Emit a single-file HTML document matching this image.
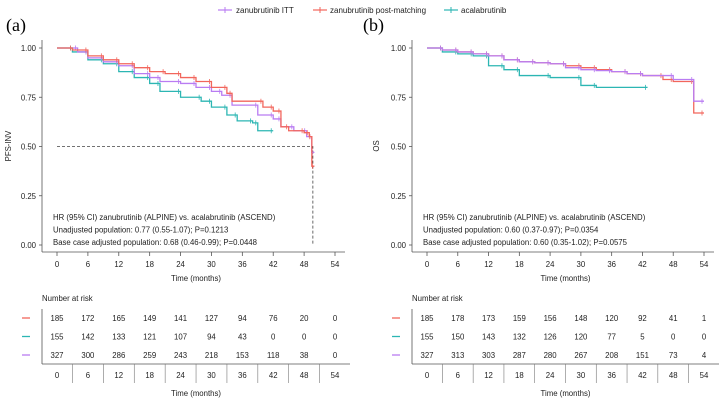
<!DOCTYPE html>
<html><head><meta charset="utf-8"><style>
body{margin:0;background:#fff;}
svg{display:block;font-family:"Liberation Sans",sans-serif;}
</style></head><body>
<svg id="c" width="722" height="400" viewBox="0 0 722 400"></svg>
<script>
const xTicks=[0,6,12,18,24,30,36,42,48,54];
const yTicks=[0,0.25,0.5,0.75,1.0];
const seriesNames=["zanubrutinib ITT","zanubrutinib post-matching","acalabrutinib"];
const colors={itt:"#b97cf2",post:"#f2665c",acal:"#2cb6b3"};
// Panel A (PFS-INV) step data
const pfsPostT=[0,3,6,9,12,15,18,21,24,27,30,33,34,40,42,43.5,45,48,49,49.5,50];
const pfsPostS=[1,0.99,0.96,0.94,0.92,0.90,0.88,0.87,0.85,0.83,0.80,0.77,0.73,0.70,0.68,0.60,0.58,0.57,0.55,0.40,0.40];
const pfsIttT=[0,4,6,9,12,15,18,20,24,27,30,32,34,39,42,43.5,46,48.5,49.5,50];
const pfsIttS=[1,0.98,0.95,0.93,0.91,0.87,0.85,0.83,0.82,0.80,0.78,0.76,0.71,0.66,0.64,0.60,0.58,0.55,0.47,0.47];
const pfsAcalT=[0,3,6,9,12,15,18,20,24,28,30,33,35,38,39,42];
const pfsAcalS=[1,0.98,0.94,0.92,0.88,0.85,0.82,0.78,0.75,0.73,0.70,0.66,0.63,0.62,0.58,0.58];
// Panel B (OS)
const osPostT=[0,3,6,9,12,15,18,21,24,27,30,33,36,39,42,46,48,52,54];
const osPostS=[1,0.99,0.98,0.97,0.96,0.94,0.93,0.925,0.92,0.91,0.90,0.89,0.88,0.87,0.86,0.84,0.83,0.67,0.67];
const osIttT=[0,3,6,9,12,15,18,21,24,27,30,33,36,39,42,48,52,54];
const osIttS=[1,0.99,0.98,0.97,0.96,0.94,0.93,0.925,0.92,0.90,0.89,0.885,0.88,0.87,0.86,0.84,0.73,0.73];
const osAcalT=[0,3,6,9,12,15,18,24,30,33,43];
const osAcalS=[1,0.98,0.97,0.96,0.91,0.89,0.86,0.85,0.81,0.80,0.80];
// risk tables
const riskA_post=[185,172,165,149,141,127,94,76,20,0];
const riskA_acal=[155,142,133,121,107,94,43,0,0,0];
const riskA_itt=[327,300,286,259,243,218,153,118,38,0];
const riskB_post=[185,178,173,159,156,148,120,92,41,1];
const riskB_acal=[155,150,143,132,126,120,77,5,0,0];
const riskB_itt=[327,313,303,287,280,267,208,151,73,4];

const svg=document.getElementById('c');
const NS="http://www.w3.org/2000/svg";
function mk(tag,attrs,parent){const e=document.createElementNS(NS,tag);for(const k in attrs)e.setAttribute(k,attrs[k]);(parent||svg).appendChild(e);return e;}
function txt(x,y,s,size,anchor,parent,fill){const t=mk('text',{x:x,y:y,'font-size':size,'text-anchor':anchor||'start',fill:fill||'#222'},parent);t.textContent=s;return t;}

// legend
const leg=[[218,236,colors.itt,seriesNames[0]],[313,330,colors.post,seriesNames[1]],[444,461,colors.acal,seriesNames[2]]];
leg.forEach(l=>{
 const g=mk('g',{});
 
 
 mk('line',{x1:l[0],x2:l[0]+14,y1:10,y2:10,stroke:l[2],'stroke-width':1.2},g);
 mk('line',{x1:l[0]+7,x2:l[0]+7,y1:7,y2:13,stroke:l[2],'stroke-width':1},g);
 txt(l[1],13,l[3],8,'start',g);
});

function panel(o){
 const g=mk('g',{});
 
 
 const X=t=>o.x0+t/54*(o.x1-o.x0);
 const Y=s=>245-s*197;
 const lab=txt(o.lx,31,o.letter,18,'start',g,'#000');lab.setAttribute('font-family','Liberation Serif,serif');
 
 mk('line',{x1:o.ax,x2:o.ax,y1:40,y2:252,stroke:'#555','stroke-width':0.8},g);
 yTicks.forEach(v=>{mk('line',{x1:o.ax-3,x2:o.ax,y1:Y(v),y2:Y(v),stroke:'#555','stroke-width':0.8},g);txt(o.ax-6,Y(v)+3,v.toFixed(2),7.8,'end',g);});
 const yl=txt(0,0,o.ylab,7.8,'middle',g);yl.setAttribute('transform',`translate(${o.ylx},146) rotate(-90)`);
 
 mk('line',{x1:o.ax,x2:o.x1+10,y1:252,y2:252,stroke:'#555','stroke-width':0.8},g);
 xTicks.forEach(v=>{mk('line',{x1:X(v),x2:X(v),y1:252,y2:256,stroke:'#555','stroke-width':0.8},g);txt(X(v),267,String(v),7.8,'middle',g);});
 const xt=txt((o.x0+o.x1)/2,281,'Time (months)',7.8,'middle',g);
 if(o.dash){mk('path',{d:`M${X(0)},${Y(0.5)}H${X(o.dash)}V${Y(0)}`,fill:'none',stroke:'#444','stroke-dasharray':'3,2','stroke-width':0.8},g);}
 o.series.forEach(s=>{
  let d=`M${X(s.t[0])},${Y(s.s[0])}`;
  for(let i=1;i<s.t.length;i++){d+=`H${X(s.t[i])}V${Y(s.s[i])}`;}
  const p=mk('path',{d:d,fill:'none',stroke:s.c,'stroke-width':1.3},g);
  
  
  for(let i=1;i<s.t.length;i++){const cx=X(s.t[i])-2;const cy=Y(s.s[i-1]);mk('line',{x1:cx,x2:cx,y1:cy-2.5,y2:cy+2.5,stroke:s.c,'stroke-width':0.8},g);}
 });
 o.ann.forEach((a,i)=>txt(o.x0-4,220+i*12.5,a,7.8,'start',g));
 txt(o.ax,301,'Number at risk',7.8,'start',g);
 mk('line',{x1:o.ax,x2:o.ax,y1:309,y2:364,stroke:'#555','stroke-width':0.8},g);
 mk('line',{x1:o.ax,x2:o.x1+15,y1:364,y2:364,stroke:'#555','stroke-width':0.8},g);
 const rows=[[o.risk[0],colors.post],[o.risk[1],colors.acal],[o.risk[2],colors.itt]];
 rows.forEach((r,ri)=>{
  const y=321+ri*18.5;
  mk('line',{x1:o.ax-20,x2:o.ax-12,y1:y-3,y2:y-3,stroke:r[1],'stroke-width':1.3},g);
  r[0].forEach((v,i)=>txt(X(xTicks[i]),y,String(v),7.8,'middle',g));
 });
 xTicks.forEach((v,i)=>{txt(X(v),378,String(v),7.8,'middle',g);if(i>0)mk('line',{x1:X(v)-15.4,x2:X(v)-15.4,y1:364,y2:383,stroke:'#777','stroke-width':0.6},g);});
 txt((o.x0+o.x1)/2,396,'Time (months)',7.8,'middle',g);
}
panel({name:'panel-a-pfs',letter:'(a)',lx:6,ax:42,x0:57,x1:335,ylab:'PFS-INV',ylx:11,dash:49.7,
 series:[{t:pfsAcalT,s:pfsAcalS,c:colors.acal,n:'acalabrutinib-curve'},{t:pfsIttT,s:pfsIttS,c:colors.itt,n:'itt-curve'},{t:pfsPostT,s:pfsPostS,c:colors.post,n:'post-matching-curve'}],
 ann:['HR (95% CI) zanubrutinib (ALPINE) vs. acalabrutinib (ASCEND)','Unadjusted population: 0.77 (0.55-1.07); P=0.1213','Base case adjusted population: 0.68 (0.46-0.99); P=0.0448'],
 risk:[riskA_post,riskA_acal,riskA_itt]});
panel({name:'panel-b-os',letter:'(b)',lx:363,ax:412,x0:427,x1:704,ylab:'OS',ylx:379,dash:null,
 series:[{t:osAcalT,s:osAcalS,c:colors.acal,n:'acalabrutinib-curve'},{t:osPostT,s:osPostS,c:colors.post,n:'post-matching-curve'},{t:osIttT,s:osIttS,c:colors.itt,n:'itt-curve'}],
 ann:['HR (95% CI) zanubrutinib (ALPINE) vs. acalabrutinib (ASCEND)','Unadjusted population: 0.60 (0.37-0.97); P=0.0354','Base case adjusted population: 0.60 (0.35-1.02); P=0.0575'],
 risk:[riskB_post,riskB_acal,riskB_itt]});
</script>
</body></html>
